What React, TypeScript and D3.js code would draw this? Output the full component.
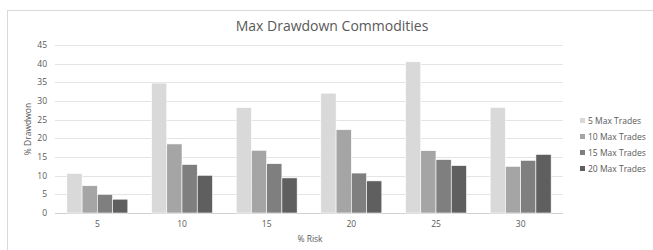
import React, { useEffect, useRef } from 'react';
import * as d3 from 'd3';

const categories = ['5', '10', '15', '20', '25', '30'];
const seriesNames = ['5 Max Trades', '10 Max Trades', '15 Max Trades', '20 Max Trades'];
const trades5 = [10.6, 34.8, 28.2, 32.1, 40.5, 28.3];
const trades10 = [7.3, 18.5, 16.8, 22.3, 16.7, 12.5];
const trades15 = [5.0, 13.0, 13.2, 10.7, 14.3, 14.1];
const trades20 = [3.7, 10.1, 9.4, 8.6, 12.7, 15.7];
const yTicks = [0, 5, 10, 15, 20, 25, 30, 35, 40, 45];
const colors = ['#d9d9d9', '#a5a5a5', '#7f7f7f', '#5f5f5f'];

const App = () => {
  const svgRef = useRef<SVGSVGElement>(null);

  useEffect(() => {
    if (!svgRef.current) return;
    const width = 653;
    const height = 250;
    const svg = d3.select(svgRef.current).attr('width', width).attr('height', height);
    svg.selectAll('*').remove();

    const font = "'Open Sans', 'Liberation Sans', sans-serif";
    const textColor = '#595959';
    const margin = { top: 45, right: 90, bottom: 37, left: 55 };
    const innerW = width - margin.left - margin.right;
    const innerH = height - margin.top - margin.bottom;

    svg.append('rect').attr('width', width).attr('height', height).attr('fill', '#fff');
    svg.append('rect').attr('x', 7.5).attr('y', 10.5).attr('width', 660).attr('height', 245)
      .attr('fill', 'none').attr('stroke', '#d9d9d9');

    const allSeries = [trades5, trades10, trades15, trades20];
    const x0 = d3.scaleBand().domain(categories).range([0, innerW]).paddingInner(0.28).paddingOuter(0.14);
    const x1 = d3.scaleBand().domain(seriesNames).range([0, x0.bandwidth()]);
    const y = d3.scaleLinear().domain([0, 45]).range([innerH, 0]);

    const g = svg.append('g').attr('transform', `translate(${margin.left},${margin.top})`);

    g.selectAll('.grid').data(yTicks).join('line')
      .attr('x1', 0).attr('x2', innerW)
      .attr('y1', d => Math.round(y(d)) + 0.5).attr('y2', d => Math.round(y(d)) + 0.5)
      .attr('stroke', d => d === 0 ? '#d0d0d0' : '#e4e4e4');

    g.selectAll('.ytick').data(yTicks).join('text')
      .attr('x', -8).attr('y', d => y(d)).attr('dy', '0.35em')
      .attr('text-anchor', 'end').attr('font-family', font).attr('font-size', '8.5px')
      .attr('fill', textColor).text(d => d);

    categories.forEach((cat, ci) => {
      const cg = g.append('g').attr('transform', `translate(${x0(cat)},0)`);
      seriesNames.forEach((s, si) => {
        const v = allSeries[si][ci];
        cg.append('rect')
          .attr('x', x1(s)!).attr('y', y(v))
          .attr('width', x1.bandwidth()).attr('height', innerH - y(v))
          .attr('fill', colors[si]).attr('stroke', '#fff').attr('stroke-width', 0.6);
      });
      g.append('text')
        .attr('x', x0(cat)! + x0.bandwidth() / 2).attr('y', innerH + 14)
        .attr('text-anchor', 'middle').attr('font-family', font).attr('font-size', '8.5px')
        .attr('fill', textColor).text(cat);
    });

    svg.append('text')
      .attr('x', 332).attr('y', 31).attr('text-anchor', 'middle')
      .attr('font-family', font).attr('font-size', '14px').attr('fill', textColor)
      .text('Max Drawdown Commodities');

    svg.append('text')
      .attr('transform', `translate(31,${margin.top + innerH / 2}) rotate(-90)`)
      .attr('text-anchor', 'middle').attr('font-family', font).attr('font-size', '8.5px')
      .attr('fill', textColor).text('% Drawdwon');

    svg.append('text')
      .attr('x', 310).attr('y', 242).attr('text-anchor', 'middle')
      .attr('font-family', font).attr('font-size', '8.5px').attr('fill', textColor)
      .text('% Risk');

    const legend = svg.append('g').attr('transform', 'translate(580,121)');
    seriesNames.forEach((s, i) => {
      legend.append('rect').attr('x', 0).attr('y', i * 16 - 3).attr('width', 5).attr('height', 5)
        .attr('fill', colors[i]);
      legend.append('text').attr('x', 8).attr('y', i * 16).attr('dy', '0.35em')
        .attr('font-family', font).attr('font-size', '8.5px').attr('fill', textColor).text(s);
    });
  }, []);

  return (
    <div style={{ position: 'fixed', left: 0, top: 0 }}>
      <svg ref={svgRef} style={{ display: 'block' }} />
    </div>
  );
};

export default App;
